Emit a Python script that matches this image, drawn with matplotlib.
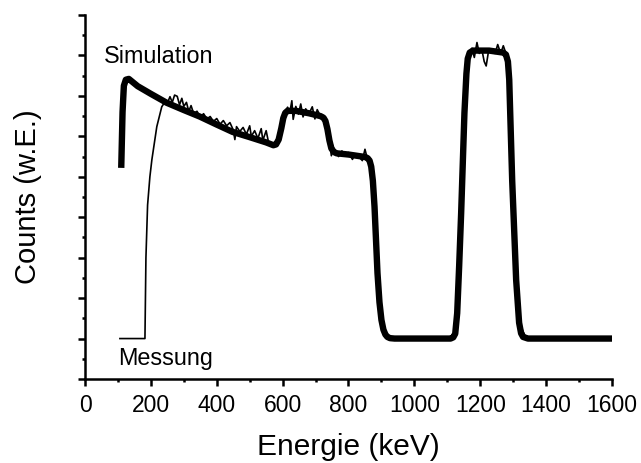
import matplotlib
matplotlib.use("Agg")
import matplotlib.pyplot as plt
from matplotlib.ticker import MultipleLocator, NullFormatter

plt.rcParams['font.family'] = ['Liberation Sans', 'DejaVu Sans']

# simulated spectrum (keV, counts in arbitrary units)
sim_energy = [110, 114, 118, 124, 133, 145, 160, 200, 248, 300, 348, 400, 448, 500, 550, 572,
              580, 588, 596, 602, 608, 615, 640, 680, 715, 724, 730, 736, 742, 748, 756, 764, 800,
              850, 858, 864, 869, 874, 879, 888, 894, 900, 906, 912, 918, 926, 940,
              1110, 1118, 1124, 1130, 1136, 1142, 1152, 1158, 1162, 1168, 1178, 1227,
              1270, 1278, 1284, 1288, 1297, 1309, 1318, 1324, 1330, 1345, 1600]
sim_counts = [5.22, 6.60, 7.25, 7.40, 7.42, 7.34, 7.24, 7.05, 6.83, 6.65, 6.49, 6.29, 6.11, 5.98, 5.85, 5.78,
              5.80, 5.92, 6.20, 6.45, 6.58, 6.63, 6.63, 6.57, 6.50, 6.46, 6.38, 6.18, 5.90, 5.70, 5.61, 5.58, 5.55,
              5.49, 5.46, 5.40, 5.25, 4.90, 4.26, 2.62, 1.90, 1.46, 1.22, 1.10, 1.04, 1.01, 1.00,
              1.00, 1.03, 1.12, 1.63, 2.80, 4.10, 6.58, 7.55, 7.92, 8.07, 8.12, 8.12,
              8.07, 8.02, 7.85, 7.40, 4.90, 2.45, 1.39, 1.13, 1.04, 1.00, 1.00]

# measured spectrum
mes_energy = [106, 182, 185, 190, 197, 203, 218, 233, 245,
              250, 258, 265, 272, 280, 287, 294, 300, 308, 315, 322, 330, 340,
              350, 360, 370, 380, 390, 400, 410, 420, 430, 440, 450, 455, 460,
              470, 480, 490, 500, 505, 515, 525, 535, 540, 550, 557, 565, 575,
              585, 593, 600, 606, 615, 622, 628, 632, 640, 648, 655, 662, 670,
              680, 690, 698, 705, 715, 722, 732, 741, 748, 752, 760, 770, 780,
              790, 800, 812, 820, 832, 842, 850, 857, 864, 872, 879, 888, 900,
              915, 933, 1115, 1124, 1130, 1142, 1152, 1158, 1164, 1175, 1182,
              1190, 1197, 1205, 1212, 1218, 1225, 1235, 1245, 1253, 1262, 1270,
              1280, 1288, 1297, 1309, 1318, 1340, 1600]
mes_counts = [1.00, 1.00, 3.00, 4.30, 5.00, 5.42, 6.24, 6.73, 6.88,
              6.82, 6.98, 6.84, 7.02, 6.99, 6.78, 6.94, 6.74, 6.84, 6.62, 6.76, 6.56, 6.62,
              6.47, 6.56, 6.43, 6.49, 6.37, 6.44, 6.30, 6.39, 6.26, 6.34, 6.16, 5.92, 6.24,
              6.12, 6.22, 6.05, 6.26, 6.00, 6.14, 5.95, 6.19, 5.90, 6.14, 5.86, 5.84, 5.80,
              5.85, 6.05, 6.35, 6.58, 6.72, 6.60, 6.88, 6.42, 6.74, 6.55, 6.80, 6.48, 6.68,
              6.56, 6.73, 6.43, 6.66, 6.50, 6.52, 6.35, 5.95, 5.52, 5.78, 5.60, 5.50, 5.64,
              5.53, 5.60, 5.43, 5.57, 5.49, 5.40, 5.68, 5.45, 5.37, 5.00, 4.26, 2.62, 1.46,
              1.09, 1.00, 1.00, 1.15, 1.63, 4.10, 6.58, 7.60, 8.05, 8.18, 7.95,
              8.32, 8.05, 8.14, 7.85, 7.74, 8.10, 8.14, 8.05, 8.27, 8.05, 8.24,
              8.00, 7.40, 4.90, 2.45, 1.39, 1.00, 1.00]

fig = plt.figure(figsize=(6.41, 4.63), dpi=100)
ax = fig.add_axes([85/641, 1 - 379/463, (612 - 85)/641, (379 - 15)/463])

ax.plot(sim_energy, sim_counts, color='k', lw=4.6,
        solid_joinstyle='round', solid_capstyle='butt')
ax.plot(mes_energy, mes_counts, color='k', lw=1.2)

ax.set_xlim(0, 1600)
ax.set_ylim(0, 9)

ax.spines['top'].set_visible(False)
ax.spines['right'].set_visible(False)
ax.spines['left'].set_linewidth(1.8)
ax.spines['bottom'].set_linewidth(1.8)

ax.xaxis.set_major_locator(MultipleLocator(200))
ax.xaxis.set_minor_locator(MultipleLocator(100))
ax.yaxis.set_major_locator(MultipleLocator(1))
ax.yaxis.set_minor_locator(MultipleLocator(0.5))
ax.yaxis.set_major_formatter(NullFormatter())
ax.tick_params(which='major', length=5, width=1.8, labelsize=16.5, pad=6)
ax.tick_params(which='minor', length=2.5, width=1.8)

ax.set_xlabel('Energie (keV)', fontsize=21.5, labelpad=11)
ax.set_ylabel('Counts (w.E.)', fontsize=21, labelpad=20)

ax.text(57, 7.81, 'Simulation', fontsize=16.8, va='baseline')
ax.text(100, 0.35, 'Messung', fontsize=16.8, va='baseline')

fig.savefig('out.png', dpi=100)
